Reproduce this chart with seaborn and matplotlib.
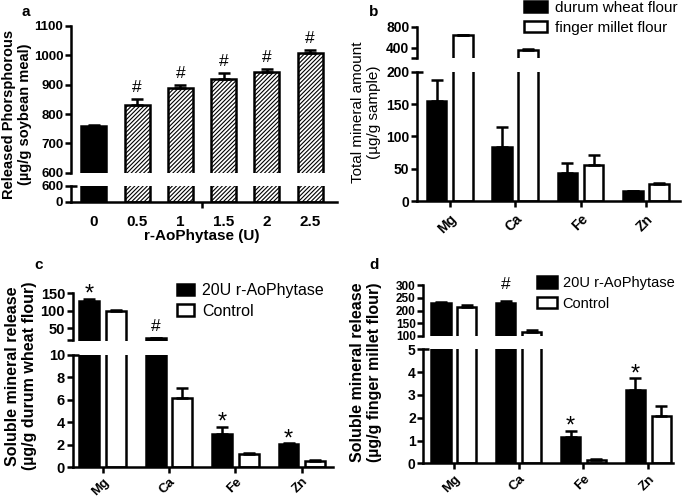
import matplotlib
matplotlib.use("Agg")
import matplotlib.pyplot as plt
from matplotlib.patches import Patch
from matplotlib.ticker import FixedLocator
import numpy as np
import pandas as pd
import seaborn as sns

# ---------------- data ----------------
doses = ["0", "0.5", "1", "1.5", "2", "2.5"]
phos_mean = [760, 831, 890, 919, 944, 1009]
phos_err = [4, 20, 8, 20, 8, 10]
phos_mark = ["", "#", "#", "#", "#", "#"]

minerals = ["Mg", "Ca", "Fe", "Zn"]
b_series = ["durum wheat flour", "finger millet flour"]
durum_total = [155, 84, 43, 15]
durum_total_err = [32, 31, 16, 1]
millet_total = [635, 360, 55, 27]
millet_total_err = [12, 6, 16, 1]

cd_series = ["20U r-AoPhytase", "Control"]
durum_phy = [129, 21, 2.94, 2.07]
durum_phy_err = [5, 1, 0.68, 0.08]
durum_ctl = [99, 6.2, 1.16, 0.56]
durum_ctl_err = [2, 0.83, 0.15, 0.05]
durum_mark = ["*", "#", "*", "*"]

millet_phy = [228, 230, 1.14, 3.21]
millet_phy_err = [6, 9, 0.28, 0.52]
millet_ctl = [215, 115, 0.16, 2.07]
millet_ctl_err = [6, 9, 0.03, 0.44]
millet_mark = ["", "#", "*", "*"]

# ---------------- style ----------------
sns.set_theme(style="ticks", rc={
    "axes.edgecolor": "black", "xtick.color": "black", "ytick.color": "black",
    "text.color": "black", "axes.labelcolor": "black"})
plt.rcParams["font.family"] = ["Liberation Sans", "DejaVu Sans"]
plt.rcParams["hatch.linewidth"] = 0.8

W, H = 685, 499
fig = plt.figure(figsize=(W / 100, H / 100), dpi=100)
LW = 1.8


def px_axes(x0, x1, ytop, ybot):
    return fig.add_axes([x0 / W, 1 - ybot / H, (x1 - x0) / W, (ybot - ytop) / H])


def style_y(ax, lo, hi, ticks, labels, size, lower_cap=False, show_bottom=False):
    ax.set_ylim(lo, hi)
    ax.set_yticks(ticks)
    ax.set_yticklabels(labels, fontsize=size, fontweight="bold")
    ax.tick_params(axis="y", direction="out", length=4, width=LW, pad=1.5)
    sns.despine(ax=ax, bottom=not show_bottom)
    ax.spines["left"].set_linewidth(LW)
    ax.spines["bottom"].set_linewidth(LW)
    ax.set_ylabel("")
    ax.set_xlabel("")
    if lower_cap:
        ax.yaxis.remove_overlapping_locs = False
        ax.yaxis.set_minor_locator(FixedLocator([hi]))
        ax.tick_params(axis="y", which="minor", direction="in", length=4, width=LW)
    if not show_bottom:
        ax.tick_params(axis="x", bottom=False, labelbottom=False)


def add_err(ax, errs_by_series, marks=None, moff_hash=5):
    lo, hi = ax.get_ylim()
    for k, (cont, errs) in enumerate(zip(ax.containers, errs_by_series)):
        for j, (p, e) in enumerate(zip(cont, errs)):
            x = p.get_x() + p.get_width() / 2
            y = p.get_height()
            if not (lo < y + e <= hi):
                continue
            ax.errorbar([x], [y], yerr=[[0], [e]], fmt="none", ecolor="black",
                        elinewidth=LW, capsize=4, capthick=LW, zorder=3)
            if marks is not None and k == 0 and marks[j]:
                m = marks[j]
                if m == "*":
                    ax.annotate(m, xy=(x, y + e), xytext=(0, -1.5),
                                textcoords="offset points", ha="center",
                                va="baseline", fontsize=17)
                else:
                    ax.annotate(m, xy=(x, y + e), xytext=(0, moff_hash),
                                textcoords="offset points", ha="center",
                                va="baseline", fontsize=12.5)


def grouped(ax, a, b, names):
    df = pd.DataFrame({"mineral": minerals * 2,
                       "series": [names[0]] * 4 + [names[1]] * 4,
                       "value": list(a) + list(b)})
    sns.barplot(data=df, x="mineral", y="value", hue="series", hue_order=names,
                order=minerals, palette=["black", "white"], saturation=1,
                width=0.8, gap=0.25, edgecolor="black", linewidth=LW,
                errorbar=None, legend=False, ax=ax)


def mineral_xticks(ax, size, pad=4):
    ax.tick_params(axis="x", direction="out", length=4, width=LW, pad=pad)
    ax.set_xticks(range(len(minerals)))
    ax.set_xticklabels(minerals, rotation=45, ha="right", va="top",
                       rotation_mode="anchor", fontsize=size, fontweight="bold")


def legend(names, x, y, size, hl, hh, ls=0.45, tp=0.5):
    handles = [Patch(facecolor="black", edgecolor="black", linewidth=LW),
               Patch(facecolor="white", edgecolor="black", linewidth=LW)]
    fig.legend(handles, names, loc="upper left", bbox_to_anchor=(x / W, 1 - y / H),
               frameon=False, fontsize=size, borderpad=0, borderaxespad=0,
               handlelength=hl, handleheight=hh, handletextpad=tp, labelspacing=ls)


# ---------------- panel a ----------------
dfa = pd.DataFrame({"dose": doses, "P": phos_mean})
a_up = px_axes(71, 337, 26, 172.7)
a_lo = px_axes(71, 337, 186, 202)
style_y(a_up, 600, 1100, [600, 700, 800, 900, 1000, 1100],
        ["600", "700", "800", "900", "1000", "1100"], 9.5)
style_y(a_lo, 0, 600, [0, 600], ["0", "600"], 9.5, lower_cap=True, show_bottom=True)
for ax in (a_up, a_lo):
    sns.barplot(data=dfa, x="dose", y="P", hue="dose", palette=["black"] + ["white"] * 5,
                saturation=1, width=0.58, edgecolor="black", linewidth=LW,
                errorbar=None, legend=False, ax=ax)
    ax.set_ylabel("")
    ax.set_xlabel("")
    for cont in ax.containers[1:]:
        for p in cont:
            p.set_hatch("////////")
    add_err(ax, [[e] for e in phos_err])
    ax.set_xlim(-0.53, 5.62)
for cont, e, m in zip(a_up.containers, phos_err, phos_mark):
    p = cont[0]
    if m:
        a_up.annotate(m, xy=(p.get_x() + p.get_width() / 2, p.get_height() + e),
                      xytext=(0, 5), textcoords="offset points", ha="center",
                      va="baseline", fontsize=12.5)
a_up.tick_params(axis="x", bottom=False, labelbottom=False)
a_lo.set_xticks(range(len(doses)))
a_lo.set_xticklabels(doses, fontsize=11, fontweight="bold")
a_lo.tick_params(axis="x", which="major", length=0, pad=9)
a_lo.xaxis.set_minor_locator(FixedLocator([2.5]))
a_lo.tick_params(axis="x", which="minor", direction="out", length=4, width=LW, bottom=True)
fig.text(202 / W, 1 - 236 / H, "r-AoPhytase (U)", ha="center", va="center",
         fontsize=11, fontweight="bold")
fig.text(17 / W, 1 - 114 / H, "Released Phorsphorous\n(µg/g soybean meal)", rotation=90,
         ha="center", va="center", fontsize=10.5, fontweight="bold", linespacing=1.2)
fig.text(26 / W, 1 - 12 / H, "a", ha="center", va="center", fontsize=11, fontweight="bold")

# ---------------- panel b ----------------
b_up = px_axes(417, 680, 26.7, 58.2)
b_lo = px_axes(417, 680, 71.7, 201)
style_y(b_up, 200, 800, [200, 400, 800], ["", "400", "800"], 10)
style_y(b_lo, 0, 200, [0, 50, 100, 150, 200], ["0", "50", "100", "150", "200"], 10,
        lower_cap=True, show_bottom=True)
for ax in (b_up, b_lo):
    grouped(ax, durum_total, millet_total, b_series)
    ax.set_ylabel("")
    ax.set_xlabel("")
    add_err(ax, [durum_total_err, millet_total_err])
    ax.set_xlim(-0.5, 3.52)
b_up.tick_params(axis="x", bottom=False, labelbottom=False)
mineral_xticks(b_lo, 10)
legend(b_series, 524, 1, 11, 1.5, 0.75, 0.4)
fig.text(366 / W, 1 - 112 / H, "Total mineral amount\n(µg/g sample)", rotation=90,
         ha="center", va="center", fontsize=11, linespacing=1.1)
fig.text(374 / W, 1 - 12 / H, "b", ha="center", va="center", fontsize=11, fontweight="bold")

# ---------------- panel c ----------------
c_up = px_axes(72.7, 333, 293.3, 340.5)
c_lo = px_axes(72.7, 333, 355, 467.3)
style_y(c_up, 15, 150, [15, 50, 100, 150], ["", "50", "100", "150"], 10.5)
style_y(c_lo, 0, 10, [0, 2, 4, 6, 8, 10], ["0", "2", "4", "6", "8", "10"], 10.5,
        lower_cap=True, show_bottom=True)
for ax in (c_up, c_lo):
    grouped(ax, durum_phy, durum_ctl, cd_series)
    ax.set_ylabel("")
    ax.set_xlabel("")
    add_err(ax, [durum_phy_err, durum_ctl_err], durum_mark)
    ax.set_xlim(-0.45, 3.47)
c_up.tick_params(axis="x", bottom=False, labelbottom=False)
mineral_xticks(c_lo, 9.5, pad=2)
legend(cd_series, 176.7, 283, 11.5, 1.1, 0.75, 0.35)
fig.text(21 / W, 1 - 376 / H, "Soluble mineral release\n(µg/g durum wheat flour)",
         rotation=90, ha="center", va="center", fontsize=11.5, fontweight="bold",
         linespacing=1.15)
fig.text(39 / W, 1 - 265 / H, "c", ha="center", va="center", fontsize=11, fontweight="bold")

# ---------------- panel d ----------------
d_up = px_axes(423.3, 673, 285, 336)
d_lo = px_axes(423.3, 673, 349.3, 463.3)
style_y(d_up, 100, 300, [100, 150, 200, 250, 300], ["100", "150", "200", "250", "300"], 8.5)
style_y(d_lo, 0, 5, [0, 1, 2, 3, 4, 5], ["0", "1", "2", "3", "4", "5"], 10,
        lower_cap=True, show_bottom=True)
for ax in (d_up, d_lo):
    grouped(ax, millet_phy, millet_ctl, cd_series)
    ax.set_ylabel("")
    ax.set_xlabel("")
    add_err(ax, [millet_phy_err, millet_ctl_err], millet_mark, moff_hash=8)
    ax.set_xlim(-0.47, 3.38)
d_up.tick_params(axis="x", bottom=False, labelbottom=False)
mineral_xticks(d_lo, 9.5, pad=3)
legend(cd_series, 537, 276, 10.5, 1.35, 0.8, 0.45, 0.4)
fig.text(366 / W, 1 - 372.5 / H, "Soluble mineral release\n(µg/g finger millet flour)",
         rotation=90, ha="center", va="center", fontsize=11.5, fontweight="bold",
         linespacing=1.15)
fig.text(374 / W, 1 - 265 / H, "d", ha="center", va="center", fontsize=11, fontweight="bold")

fig.savefig("out.png", dpi=100)
